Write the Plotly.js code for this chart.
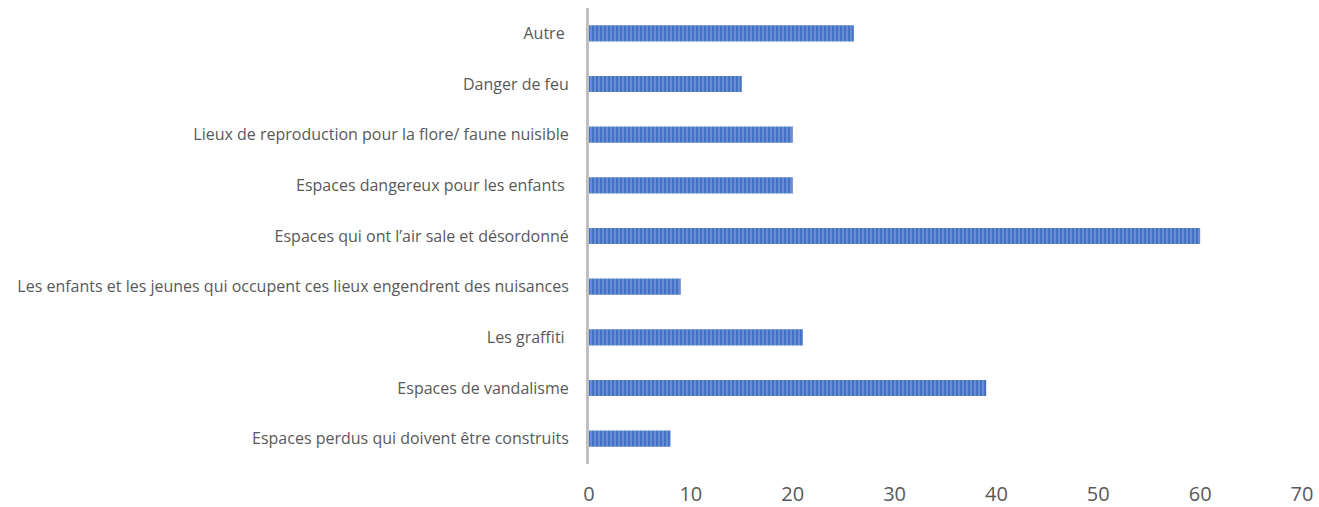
<!DOCTYPE html>
<html>
<head>
<meta charset="utf-8">
<script src="https://cdn.plot.ly/plotly-3.0.1.min.js"></script>
<style>html,body{margin:0;padding:0;background:#fff;}#chart{width:1319px;height:507px;}</style>
</head>
<body>
<div id="chart"></div>
<script>
const categories = [
  "Espaces perdus qui doivent être construits",
  "Espaces de vandalisme",
  "Les graffiti\u00a0",
  "Les enfants et les jeunes qui occupent ces lieux engendrent des nuisances",
  "Espaces qui ont l’air sale et désordonné",
  "Espaces dangereux pour les enfants\u00a0",
  "Lieux de reproduction pour la flore/ faune nuisible",
  "Danger de feu",
  "Autre\u00a0"
];
const values = [8, 39, 21, 9, 60, 20, 20, 15, 26];
const xTicks = [0, 10, 20, 30, 40, 50, 60, 70];

const trace = {
  type: "bar",
  orientation: "h",
  y: categories,
  x: values,
  marker: {
    color: "#4472c4",
    line: {width: 0},
    pattern: {shape: "|", fgcolor: "#9db5e2", bgcolor: "#4472c4", size: 4, solidity: 0.4, fillmode: "overlay"}
  },
  hoverinfo: "x+y"
};

const layout = {
  width: 1319, height: 507,
  margin: {l: 589, r: 17, t: 8, b: 43, pad: 0},
  paper_bgcolor: "#ffffff",
  plot_bgcolor: "#ffffff",
  bargap: 0.68,
  showlegend: false,
  font: {family: "'Open Sans', 'Noto Sans', sans-serif", color: "#595959"},
  xaxis: {
    range: [0, 70],
    tickvals: xTicks,
    ticktext: xTicks.map(String),
    showgrid: false,
    zeroline: false,
    showline: false,
    ticks: "outside",
    ticklen: 12,
    tickcolor: "rgba(0,0,0,0)",
    tickfont: {size: 20, color: "#595959"},
    fixedrange: true
  },
  yaxis: {
    type: "category",
    categoryorder: "array",
    categoryarray: categories,
    showgrid: false,
    zeroline: false,
    showline: true,
    linecolor: "#bfbfbf",
    linewidth: 3,
    ticks: "outside",
    ticklen: 14,
    tickcolor: "rgba(0,0,0,0)",
    tickfont: {size: 16, color: "#595959"},
    fixedrange: true
  }
};

Plotly.newPlot("chart", [trace], layout, {displayModeBar: false, staticPlot: true});
</script>
</body>
</html>
